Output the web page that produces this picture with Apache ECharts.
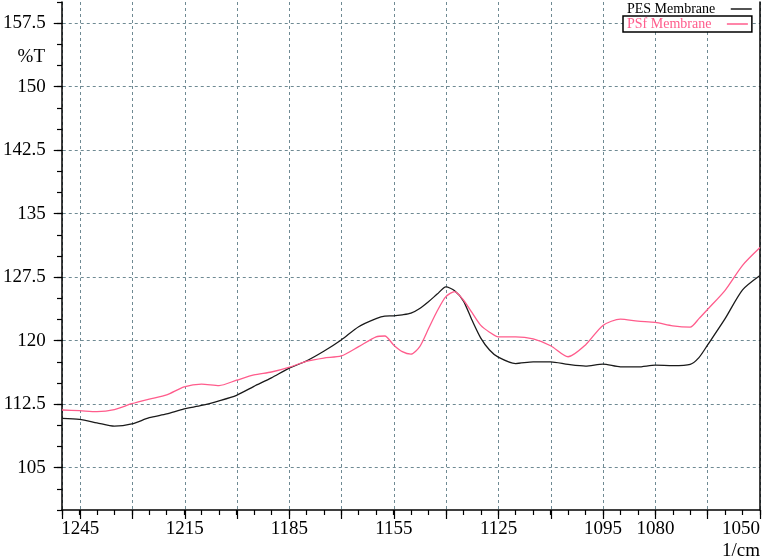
<!DOCTYPE html>
<html>
<head>
<meta charset="utf-8">
<script src="https://cdn.jsdelivr.net/npm/echarts@6/dist/echarts.min.js"></script>
<style>html,body{margin:0;padding:0;background:#fff;}#c{width:775px;height:560px;}</style>
</head>
<body>
<div id="c"></div>
<script>
// wavenumber (1/cm)
const wavenumbers = [1250,1245,1240,1235,1230,1225,1220,1215,1210,1205,1200,1195,1190,1185,1180,1175,1170,1165,1160,1157.5,1155,1152.5,1150,1147.5,1145,1142.5,1140,1137.5,1135,1132.5,1130,1127.5,1125,1120,1115,1110,1105,1100,1095,1090,1085,1080,1075,1070,1067.5,1065,1060,1055,1050];
const pesValues = [110.83,110.7,110.3,109.9,110.16,110.9,111.35,111.95,112.35,112.9,113.55,114.6,115.6,116.73,117.6,118.75,120.08,121.65,122.6,122.9,122.93,123.05,123.25,123.8,124.6,125.5,126.35,125.9,124.7,122.4,120.3,118.9,118.05,117.3,117.5,117.5,117.2,117.0,117.24,116.9,116.9,117.1,117.05,117.2,118.0,119.5,122.6,126.0,127.7];
const psfValues = [111.81,111.73,111.62,111.85,112.55,113.1,113.6,114.55,114.87,114.7,115.33,115.95,116.3,116.85,117.55,117.95,118.19,119.3,120.45,120.55,119.5,118.7,118.4,119.3,121.4,123.5,125.2,125.8,124.8,123.3,121.8,121.0,120.45,120.45,120.2,119.4,118.1,119.5,121.8,122.55,122.3,122.15,121.75,121.6,122.6,123.7,125.95,128.9,131.0];
const seriesNames = ['PES Membrane', 'PSf Membrane'];
const xLabelValues = [1245,1215,1185,1155,1125,1095,1080,1050];
const yLabelValues = [105,112.5,120,127.5,135,142.5,150,157.5];
const xTitle = '1/cm';
const yTitle = '%T';

const FONT = 'Liberation Serif';
const BLACK = '#1a1a1a';
const PINK = '#ff5c8c';
const GRIDC = '#6f8a93';
const gridRect = {left: 62, right: 15, top: 2, bottom: 50};
const plain = v => String(v);

const legendBase = {left: 623, orient: 'vertical', align: 'right', padding: [1,4,1,4],
  icon: 'rect', itemWidth: 21, itemHeight: 1.5, formatter: '{name}   ', backgroundColor: '#fff'};

const chart = echarts.init(document.getElementById('c'));
chart.setOption({
  animation: false,
  backgroundColor: '#fff',
  grid: [Object.assign({}, gridRect), Object.assign({}, gridRect)],
  legend: [
    Object.assign({}, legendBase, {data: [seriesNames[0]], top: 1,
      textStyle: {fontFamily: FONT, fontSize: 14, color: '#000'}}),
    Object.assign({}, legendBase, {data: [seriesNames[1]], top: 16,
      borderColor: '#000', borderWidth: 1.5, borderRadius: 0,
      textStyle: {fontFamily: FONT, fontSize: 14, color: PINK}})
  ],
  xAxis: [
    {gridIndex: 0, type: 'value', min: 1050, max: 1250, interval: 5, inverse: true, position: 'bottom',
     axisLine: {show: true, lineStyle: {color: '#000', width: 1.5}},
     axisTick: {show: true, length: 5, lineStyle: {color: '#000', width: 1.2}},
     axisLabel: {show: false}, splitLine: {show: false}},
    {gridIndex: 1, type: 'value', min: 1050, max: 1250, interval: 15, inverse: true, position: 'bottom',
     axisLine: {show: false},
     axisTick: {show: true, length: 9, lineStyle: {color: '#000', width: 1.2}},
     axisLabel: {show: true, customValues: xLabelValues, formatter: plain, margin: 10, fontFamily: FONT, fontSize: 19, color: '#000', alignMaxLabel: 'right'},
     splitLine: {show: true, lineStyle: {color: GRIDC, type: [3,3], width: 1}}}
  ],
  yAxis: [
    {gridIndex: 0, type: 'value', min: 100, max: 160, interval: 2.5, position: 'left',
     axisLine: {show: true, lineStyle: {color: '#000', width: 1.5}},
     axisTick: {show: true, length: 5, lineStyle: {color: '#000', width: 1.2}},
     axisLabel: {show: false}, splitLine: {show: false}},
    {gridIndex: 1, type: 'value', min: 100, max: 160, interval: 2.5, position: 'left',
     axisLine: {show: false},
     axisTick: {show: true, length: 9, customValues: yLabelValues, lineStyle: {color: '#000', width: 1.2}},
     axisLabel: {show: true, customValues: yLabelValues, formatter: plain, margin: 17, fontFamily: FONT, fontSize: 19, color: '#000'},
     splitLine: {show: true, lineStyle: {color: GRIDC, type: [3,3], width: 1}}},
    {gridIndex: 0, type: 'value', min: 100, max: 160, position: 'right',
     axisLine: {show: true, lineStyle: {color: '#000', width: 1.5}},
     axisTick: {show: false}, axisLabel: {show: false}, splitLine: {show: false}}
  ],
  graphic: [
    {type: 'text', style: {x: 45, y: 57, text: yTitle, textAlign: 'right', textVerticalAlign: 'middle', fontFamily: FONT, fontSize: 19, fill: '#000'}},
    {type: 'text', style: {x: 760, y: 551, text: xTitle, textAlign: 'right', textVerticalAlign: 'middle', fontFamily: FONT, fontSize: 19, fill: '#000'}}
  ],
  series: [
    {name: seriesNames[0], type: 'line', xAxisIndex: 0, yAxisIndex: 0, symbol: 'none', smooth: 0.25,
     data: wavenumbers.map((w, i) => [w, pesValues[i]]),
     lineStyle: {color: BLACK, width: 1.3}, itemStyle: {color: BLACK}, z: 3},
    {name: seriesNames[1], type: 'line', xAxisIndex: 0, yAxisIndex: 0, symbol: 'none', smooth: 0.25,
     data: wavenumbers.map((w, i) => [w, psfValues[i]]),
     lineStyle: {color: PINK, width: 1.3}, itemStyle: {color: PINK}, z: 3}
  ]
});
</script>
</body>
</html>
